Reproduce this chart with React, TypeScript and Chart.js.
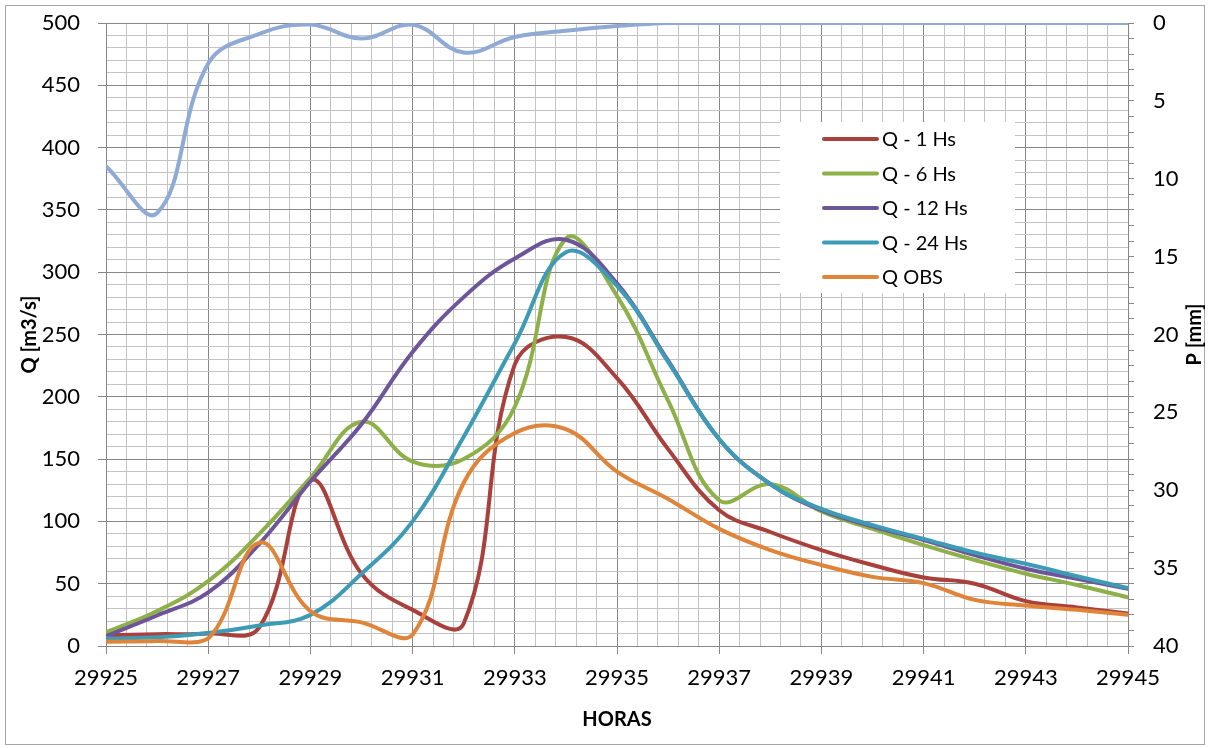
import { useEffect, useRef } from "react";
import { Chart, registerables } from "chart.js";

Chart.register(...registerables);

// ---- data ----
const HOURS = [
  29925, 29926, 29927, 29928, 29929, 29930, 29931, 29932, 29933, 29934, 29935,
  29936, 29937, 29938, 29939, 29940, 29941, 29942, 29943, 29944, 29945,
];
const Q_1_HS = [8.6, 9.5, 10, 15, 133, 58, 29, 18, 226, 248, 215, 158, 109, 91.5, 77, 65, 55, 50, 36, 31, 26];
const Q_6_HS = [11, 28, 52, 90, 135, 180, 148, 150, 192, 327, 281, 197, 117, 130, 108, 94, 81, 69, 58, 49, 39];
const Q_12_HS = [8, 24.5, 43, 82, 132, 178, 236, 280, 311, 326, 291, 229, 166, 130, 109, 96, 85, 73, 62, 54, 46];
const Q_24_HS = [6, 7, 10.5, 16.5, 25, 58, 100, 168, 243, 316, 289, 228, 166, 130, 110, 97, 86, 75, 66, 56, 46.5];
const Q_OBS = [3.5, 4, 6, 83, 28, 19, 9, 131, 171, 174, 140, 118, 94, 77, 65, 55.5, 50.5, 37, 32.5, 29, 25];
const P_MM = [9.2, 12.2, 2.6, 0.7, 0.1, 1.0, 0.1, 1.9, 0.9, 0.5, 0.2, 0, 0, 0, 0, 0, 0, 0, 0, 0, 0];

const Q_LABELS = ["Q - 1 Hs", "Q - 6 Hs", "Q - 12 Hs", "Q - 24 Hs", "Q OBS"];
const Q_SERIES = [Q_1_HS, Q_6_HS, Q_12_HS, Q_24_HS, Q_OBS];
const Q_COLORS = ["#AA403C", "#8DB049", "#6E5499", "#3D9BB5", "#E0843A"];
const P_LABEL = "P";
const P_COLOR = "#8FAAD5";

const X_MIN = 29925;
const X_MAX = 29945;
const X_MINOR = 0.4;
const X_MAJOR = 2;
const Q_MIN = 0;
const Q_MAX = 500;
const Q_MINOR = 10;
const Q_MAJOR = 50;
const P_MIN = 0;
const P_MAX = 40;
const P_MINOR = 1;
const P_MAJOR = 5;

const GRID_MAJOR = "#878787";
const GRID_MINOR = "#C3C3C3";
const FONT = "Lato, 'Open Sans', 'DejaVu Sans', sans-serif";

const isMult = (v: number, base: number, step: number) => {
  const r = (v - base) / step;
  return Math.abs(r - Math.round(r)) < 1e-6;
};

const frameAndLegend = {
  id: "frameAndLegend",
  beforeDraw(chart: any) {
    const { ctx, width, height } = chart;
    ctx.save();
    ctx.fillStyle = "#ffffff";
    ctx.fillRect(0, 0, width, height);
    ctx.strokeStyle = "#A6A6A6";
    ctx.lineWidth = 1;
    ctx.strokeRect(5.5, 5.5, width - 11, height - 9);
    ctx.restore();
  },
  afterDraw(chart: any) {
    const { ctx } = chart;
    ctx.save();
    // legend inside plot
    const lx = 780;
    const ly = 122;
    ctx.fillStyle = "#ffffff";
    ctx.fillRect(lx, ly, 235, 171);
    ctx.font = `20px ${FONT}`;
    ctx.textBaseline = "middle";
    ctx.textAlign = "left";
    Q_LABELS.forEach((lab, i) => {
      const y = 139 + i * 34.5;
      ctx.strokeStyle = Q_COLORS[i];
      ctx.lineWidth = 4;
      ctx.lineCap = "round";
      ctx.beginPath();
      ctx.moveTo(824, y);
      ctx.lineTo(877, y);
      ctx.stroke();
      ctx.fillStyle = "#000";
      ctx.fillText(lab, 882, y + 1);
    });
    // right axis title, reading bottom-to-top
    const area = chart.chartArea;
    ctx.translate(1195, (area.top + area.bottom) / 2);
    ctx.rotate(-Math.PI / 2);
    ctx.textAlign = "center";
    ctx.font = `bold 20px ${FONT}`;
    ctx.fillStyle = "#000";
    ctx.fillText("P [mm]", 0, 0);
    ctx.restore();
  },
};

export default function App() {
  const ref = useRef<HTMLCanvasElement | null>(null);

  useEffect(() => {
    document.body.style.margin = "0";
    const canvas = ref.current;
    if (!canvas) return;

    const qSets = Q_SERIES.map((vals, i) => ({
      label: Q_LABELS[i],
      data: HOURS.map((h, k) => ({ x: h, y: vals[k] })),
      borderColor: Q_COLORS[i],
      backgroundColor: Q_COLORS[i],
      borderWidth: 4,
      pointRadius: 0,
      tension: 0.4,
      fill: false,
      yAxisID: "y",
      order: Q_SERIES.length - i,
      borderCapStyle: "round" as const,
      borderJoinStyle: "round" as const,
    }));
    const pSet = {
      label: P_LABEL,
      data: HOURS.map((h, k) => ({ x: h, y: P_MM[k] })),
      borderColor: P_COLOR,
      backgroundColor: P_COLOR,
      borderWidth: 4,
      pointRadius: 0,
      tension: 0.4,
      fill: false,
      yAxisID: "y1",
      order: 10,
      borderCapStyle: "round" as const,
      borderJoinStyle: "round" as const,
    };

    const chart = new Chart(canvas, {
      type: "line",
      data: { datasets: [...qSets, pSet] as any },
      plugins: [frameAndLegend],
      options: {
        responsive: false,
        animation: false,
        devicePixelRatio: 1,
        layout: { padding: { top: 23, left: 0, right: 0, bottom: 0 } },
        plugins: {
          legend: { display: false },
          tooltip: { enabled: false },
        },
        scales: {
          x: {
            type: "linear",
            position: "bottom",
            min: X_MIN,
            max: X_MAX,
            afterFit: (s: any) => {
              s.height = 102;
            },
            ticks: {
              stepSize: X_MINOR,
              autoSkip: false,
              maxRotation: 0,
              minRotation: 0,
              padding: 11,
              color: "#000",
              font: { size: 22, family: FONT },
              callback: (v: any) => (isMult(Number(v), X_MIN, X_MAJOR) ? String(Math.round(Number(v))) : ""),
            },
            grid: {
              color: (c: any) => (isMult(c.tick.value, X_MIN, X_MAJOR) ? GRID_MAJOR : GRID_MINOR),
              tickColor: (c: any) => (isMult(c.tick.value, X_MIN, X_MAJOR) ? GRID_MAJOR : "rgba(0,0,0,0)"),
              tickLength: 8,
              lineWidth: 1,
            },
            border: { color: GRID_MAJOR, width: 1 },
            title: {
              display: true,
              text: "HORAS",
              color: "#000",
              font: { size: 20, weight: "bold", family: FONT },
              padding: { top: 0, bottom: 16 },
            },
          },
          y: {
            type: "linear",
            position: "left",
            min: Q_MIN,
            max: Q_MAX,
            afterFit: (s: any) => {
              s.width = 106;
              s.paddingTop = 0;
              s.paddingBottom = 0;
            },
            ticks: {
              stepSize: Q_MINOR,
              autoSkip: false,
              padding: 18,
              color: "#000",
              font: { size: 22, family: FONT },
              callback: (v: any) => (isMult(Number(v), 0, Q_MAJOR) ? String(v) : ""),
            },
            grid: {
              color: (c: any) => (isMult(c.tick.value, 0, Q_MAJOR) ? GRID_MAJOR : GRID_MINOR),
              tickColor: (c: any) => (isMult(c.tick.value, 0, Q_MAJOR) ? GRID_MAJOR : "rgba(0,0,0,0)"),
              tickLength: 8,
              lineWidth: 1,
            },
            border: { color: GRID_MAJOR, width: 1 },
            title: {
              display: true,
              text: "Q [m3/s]",
              color: "#000",
              font: { size: 20, weight: "bold", family: FONT },
              padding: { top: 18, bottom: 0 },
            },
          },
          y1: {
            type: "linear",
            position: "right",
            min: P_MIN,
            max: P_MAX,
            reverse: true,
            afterFit: (s: any) => {
              s.width = 82;
              s.paddingTop = 0;
              s.paddingBottom = 0;
            },
            ticks: {
              stepSize: P_MINOR,
              autoSkip: false,
              padding: 19,
              color: "#000",
              font: { size: 22, family: FONT },
              callback: (v: any) => (isMult(Number(v), 0, P_MAJOR) ? String(v) : ""),
            },
            grid: {
              drawOnChartArea: false,
              color: GRID_MAJOR,
              tickColor: GRID_MAJOR,
              tickLength: 6,
              lineWidth: 1,
            },
            border: { color: GRID_MAJOR, width: 1 },
          },
        },
      } as any,
    });

    return () => chart.destroy();
  }, []);

  return (
    <canvas
      ref={ref}
      width={1210}
      height={748}
      style={{ display: "block", width: 1210, height: 748 }}
    />
  );
}
